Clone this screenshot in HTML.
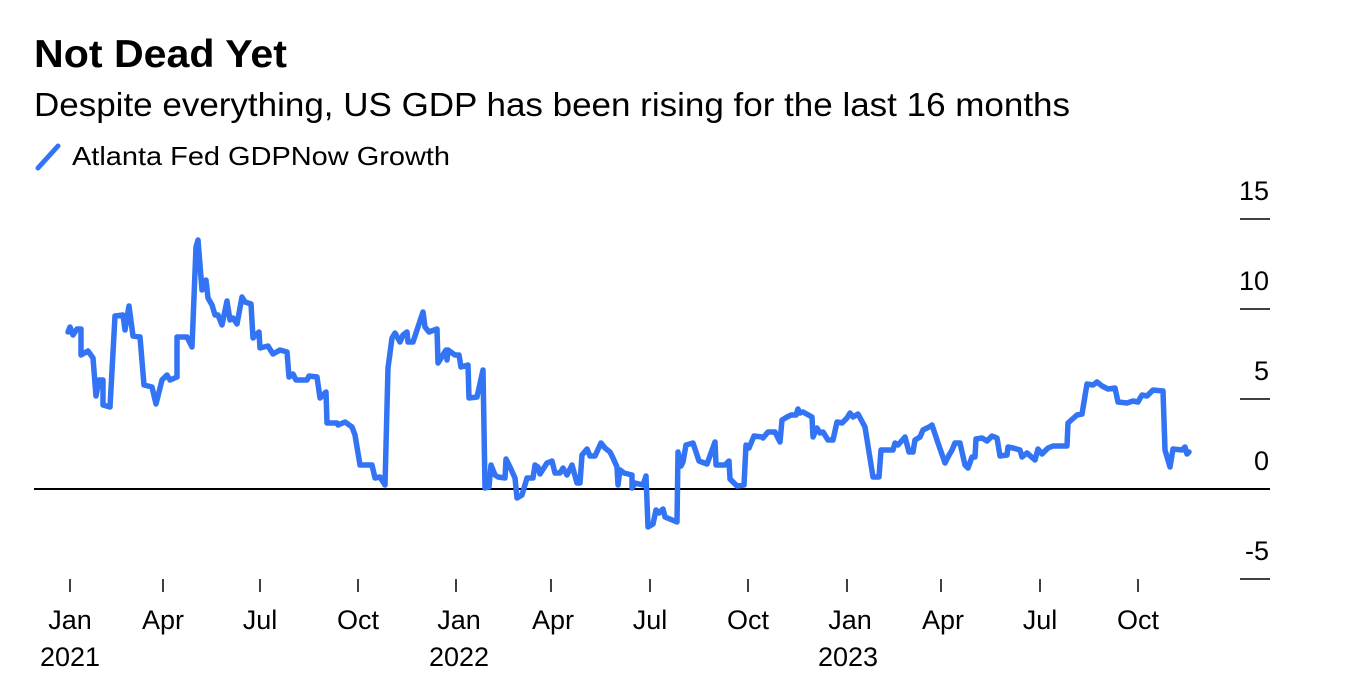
<!DOCTYPE html>
<html><head><meta charset="utf-8"><style>
body{margin:0;background:#fff;width:1356px;height:690px;overflow:hidden;font-family:"Liberation Sans",Arial,sans-serif;}
</style></head><body>
<svg width="1356" height="690" xmlns="http://www.w3.org/2000/svg" font-family="Liberation Sans, Arial, sans-serif">
<text x="34" y="67" font-size="39" font-weight="bold" fill="#000" textLength="253" lengthAdjust="spacingAndGlyphs">Not Dead Yet</text>
<text x="34" y="116" font-size="33" fill="#000" textLength="1036" lengthAdjust="spacingAndGlyphs">Despite everything, US GDP has been rising for the last 16 months</text>
<line x1="38" y1="168" x2="58" y2="146" stroke="#3374f5" stroke-width="5" stroke-linecap="round"/>
<text x="72" y="165" font-size="26" fill="#000" textLength="378" lengthAdjust="spacingAndGlyphs">Atlanta Fed GDPNow Growth</text>
<g font-size="27" fill="#000" text-anchor="end">
<text x="1269" y="200">15</text><text x="1269" y="290">10</text><text x="1269" y="380">5</text><text x="1269" y="470">0</text><text x="1269" y="560">-5</text>
</g>
<g stroke="#000" stroke-width="1.5">
<line x1="1240" y1="219" x2="1270" y2="219"/><line x1="1240" y1="309" x2="1270" y2="309"/><line x1="1240" y1="399" x2="1270" y2="399"/><line x1="1240" y1="579" x2="1270" y2="579"/>
<line x1="34" y1="489" x2="1270" y2="489" stroke-width="2"/>
<line x1="70" y1="579" x2="70" y2="592"/><line x1="163" y1="579" x2="163" y2="592"/><line x1="260" y1="579" x2="260" y2="592"/><line x1="358" y1="579" x2="358" y2="592"/><line x1="456" y1="579" x2="456" y2="592"/><line x1="551" y1="579" x2="551" y2="592"/><line x1="650" y1="579" x2="650" y2="592"/><line x1="748" y1="579" x2="748" y2="592"/><line x1="847" y1="579" x2="847" y2="592"/><line x1="941" y1="579" x2="941" y2="592"/><line x1="1040" y1="579" x2="1040" y2="592"/><line x1="1138" y1="579" x2="1138" y2="592"/>
</g>
<g font-size="27" fill="#000" text-anchor="middle">
<text x="70" y="629">Jan</text><text x="163" y="629">Apr</text><text x="260" y="629">Jul</text><text x="358" y="629">Oct</text><text x="459" y="629">Jan</text><text x="553" y="629">Apr</text><text x="650" y="629">Jul</text><text x="748" y="629">Oct</text><text x="850" y="629">Jan</text><text x="943" y="629">Apr</text><text x="1040" y="629">Jul</text><text x="1138" y="629">Oct</text>
<text x="70" y="666">2021</text><text x="459" y="666">2022</text><text x="848" y="666">2023</text>
</g>
<polyline fill="none" stroke="#3374f5" stroke-width="5.5" stroke-linejoin="round" stroke-linecap="round" points="
68,332 70,327 73,335 77,329 81,329 81,355 88,351 93,358 96,396 99,380 103,380 103,405 110,407 115,316 123,315 125,330 129,306 133,336 140,337 144,385 152,387 156,404 162,380 167,375 170,380 177,377 177,337 187,337 192,347 196,247 198,240 202,290 206,280 208,298 212,305 215,315 218,315 222,325 227,301 230,320 233,318 237,324 242,297 245,302 251,304 253,338 259,332 260,348 268,346 273,354 280,350 287,352 289,377 293,374 296,380 307,380 309,376 317,377 320,398 326,392 327,423 337,423 338,425 345,422 352,427 355,435 360,465 372,465 375,478 380,477 385,485 388,368 392,338 395,333 400,342 403,335 407,332 408,342 413,342 423,312 425,327 429,332 437,329 438,363 446,350 447,360 448,350 455,355 459,355 461,367 468,365 469,398 477,397 483,370 485,488 489,487 491,465 495,475 498,477 505,478 506,459 510,467 515,478 517,498 522,495 527,478 533,478 535,465 538,467 540,474 547,463 552,461 555,473 560,473 563,468 567,475 572,465 577,483 580,483 582,455 587,449 590,456 595,456 601,443 605,448 610,452 613,458 617,467 618,485 620,470 624,473 632,475 632,488 635,483 643,485 646,476 648,527 653,524 656,510 659,513 663,509 665,517 677,522 678,452 681,466 683,462 686,445 693,443 699,461 707,464 715,442 716,465 725,465 729,461 730,479 737,486 744,485 746,445 749,448 754,436 762,437 763,438 768,432 775,432 780,442 782,420 787,417 791,415 796,415 798,409 800,413 803,412 812,417 813,437 817,428 820,433 823,432 828,440 833,440 837,422 842,423 847,418 850,413 853,417 858,414 865,427 873,477 879,477 881,450 893,450 895,443 898,445 905,437 909,452 913,452 915,440 920,437 923,430 929,427 932,425 938,443 945,463 948,457 952,450 955,443 960,443 965,465 968,468 972,457 975,457 976,439 982,438 987,441 992,436 997,438 1000,456 1007,455 1008,447 1013,448 1020,450 1022,457 1027,453 1035,460 1038,449 1042,454 1048,448 1053,446 1067,446 1068,423 1077,415 1082,414 1087,384 1093,385 1097,382 1102,386 1108,389 1115,388 1118,402 1127,403 1133,401 1138,402 1142,395 1147,396 1153,390 1163,391 1165,450 1170,467 1173,449 1182,450 1185,447 1187,454 1189,452"/>
</svg>
</body></html>
